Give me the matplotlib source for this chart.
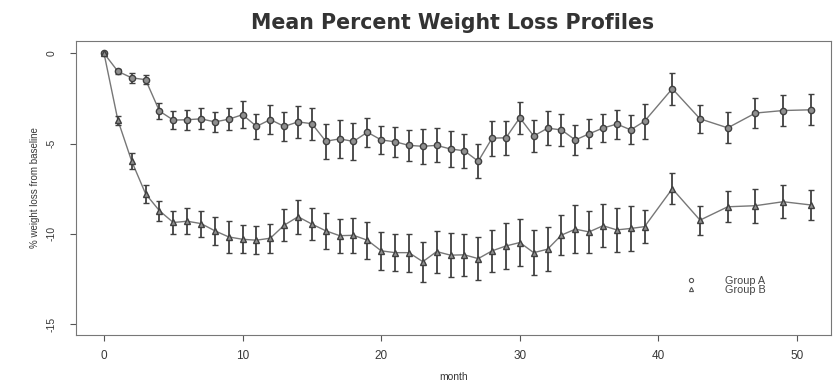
import matplotlib
matplotlib.use("Agg")
import matplotlib.pyplot as plt

plt.rcParams["font.family"] = ["Liberation Sans", "DejaVu Sans"]

# Measurement months
months = [0, 1, 2, 3, 4, 5, 6, 7, 8, 9, 10, 11, 12, 13, 14, 15, 16, 17, 18, 19,
          20, 21, 22, 23, 24, 25, 26, 27, 28, 29, 30, 31, 32, 33, 34, 35, 36,
          37, 38, 39, 41, 43, 45, 47, 49, 51]

# Mean % weight change from baseline, Group A
group_a_mean = [0.0, -1.0, -1.36, -1.46, -3.2, -3.7, -3.68, -3.63, -3.8, -3.65,
                -3.4, -4.05, -3.67, -4.05, -3.8, -3.9, -4.87, -4.74, -4.88, -4.37,
                -4.8, -4.9, -5.1, -5.15, -5.1, -5.3, -5.4, -5.98, -4.7, -4.68,
                -3.57, -4.58, -4.15, -4.24, -4.8, -4.46, -4.14, -3.92, -4.24, -3.76,
                -1.96, -3.63, -4.13, -3.31, -3.17, -3.13]
group_a_err = [0.05, 0.12, 0.26, 0.26, 0.45, 0.5, 0.56, 0.58, 0.57, 0.62,
               0.73, 0.7, 0.78, 0.8, 0.88, 0.88, 0.97, 1.05, 1.04, 0.8,
               0.8, 0.83, 0.85, 0.96, 0.94, 1.0, 0.95, 0.93, 0.97, 0.95,
               0.89, 0.9, 0.93, 0.89, 0.85, 0.8, 0.76, 0.8, 0.8, 0.97,
               0.88, 0.79, 0.86, 0.83, 0.88, 0.85]

# Mean % weight change from baseline, Group B
group_b_mean = [0.0, -3.7, -5.98, -7.78, -8.72, -9.37, -9.3, -9.43, -9.83, -10.17,
                -10.3, -10.35, -10.24, -9.52, -9.05, -9.46, -9.83, -10.1, -10.08, -10.35,
                -10.94, -11.04, -11.04, -11.54, -10.98, -11.18, -11.16, -11.37, -10.94, -10.67,
                -10.48, -11.04, -10.85, -10.07, -9.74, -9.89, -9.55, -9.78, -9.7, -9.6,
                -7.5, -9.24, -8.5, -8.44, -8.22, -8.4]
group_b_err = [0.05, 0.25, 0.44, 0.5, 0.56, 0.62, 0.71, 0.72, 0.78, 0.88,
               0.77, 0.79, 0.81, 0.9, 0.94, 0.9, 0.99, 0.95, 0.98, 1.02,
               1.06, 1.04, 1.06, 1.11, 1.16, 1.22, 1.18, 1.18, 1.18, 1.27,
               1.28, 1.23, 1.22, 1.11, 1.32, 1.18, 1.2, 1.21, 1.25, 0.9,
               0.87, 0.8, 0.86, 0.95, 0.9, 0.83]

x_ticks = [0, 10, 20, 30, 40, 50]
y_ticks = [0, -5, -10, -15]
series_names = ["Group A", "Group B"]

ink = "#404040"
line_col = "#777777"
text_col = "#383838"

fig = plt.figure(figsize=(8.33, 3.82), dpi=100)
ax = fig.add_axes([76 / 833, 1 - 335 / 382, (831 - 76) / 833, (335 - 41) / 382])

for mean, err, marker in [(group_a_mean, group_a_err, "o"),
                          (group_b_mean, group_b_err, "^")]:
    ax.plot(months, mean, color=line_col, lw=1.0, zorder=2)
    ax.errorbar(months, mean, yerr=err, fmt="none", ecolor=ink,
                elinewidth=1.3, capsize=2.5, capthick=1.0, zorder=3)
    ax.plot(months, mean, linestyle="none", marker=marker, ms=4.5,
            mfc="#909090", mec=ink, mew=1.0, zorder=4)

ax.set_xlim(-2.02, 52.45)
ax.set_ylim(-15.6, 0.68)
ax.set_xticks(x_ticks)
ax.set_yticks(y_ticks)
ax.set_xticklabels([str(v) for v in x_ticks], fontsize=8.5, color=text_col)
ax.set_yticklabels([str(v) for v in y_ticks], fontsize=7.5, color=text_col,
                   rotation=90, va="center")
ax.tick_params(axis="both", direction="out", length=4, width=0.8, color="#555555")
ax.tick_params(axis="y", pad=10)
ax.tick_params(axis="x", pad=7)
for s in ax.spines.values():
    s.set_color("#777777")
    s.set_linewidth(0.8)

ax.set_xlabel("month", fontsize=7.5, color=text_col, labelpad=7)
ax.set_ylabel("% weight loss from baseline", fontsize=7, color=text_col,
              labelpad=5)

fig.text(453 / 833, 1 - 23 / 382, "Mean Percent Weight Loss Profiles",
         ha="center", va="center", fontsize=14.8, fontweight="bold",
         color="#333333", family="DejaVu Sans")

# Legend (no frame)
leg_handles = [
    plt.Line2D([], [], linestyle="none", marker="o", ms=3, mfc="none",
               mec="#555555", mew=0.8),
    plt.Line2D([], [], linestyle="none", marker="^", ms=3, mfc="none",
               mec="#555555", mew=0.8),
]
ax.legend(leg_handles, series_names, loc="upper left",
          bbox_to_anchor=((670 - 76) / 755, 1 - (266 - 41) / 294),
          frameon=False, fontsize=7.8, handletextpad=2.2, labelspacing=-0.05,
          labelcolor="#444444")

fig.savefig("out.png", dpi=100)
